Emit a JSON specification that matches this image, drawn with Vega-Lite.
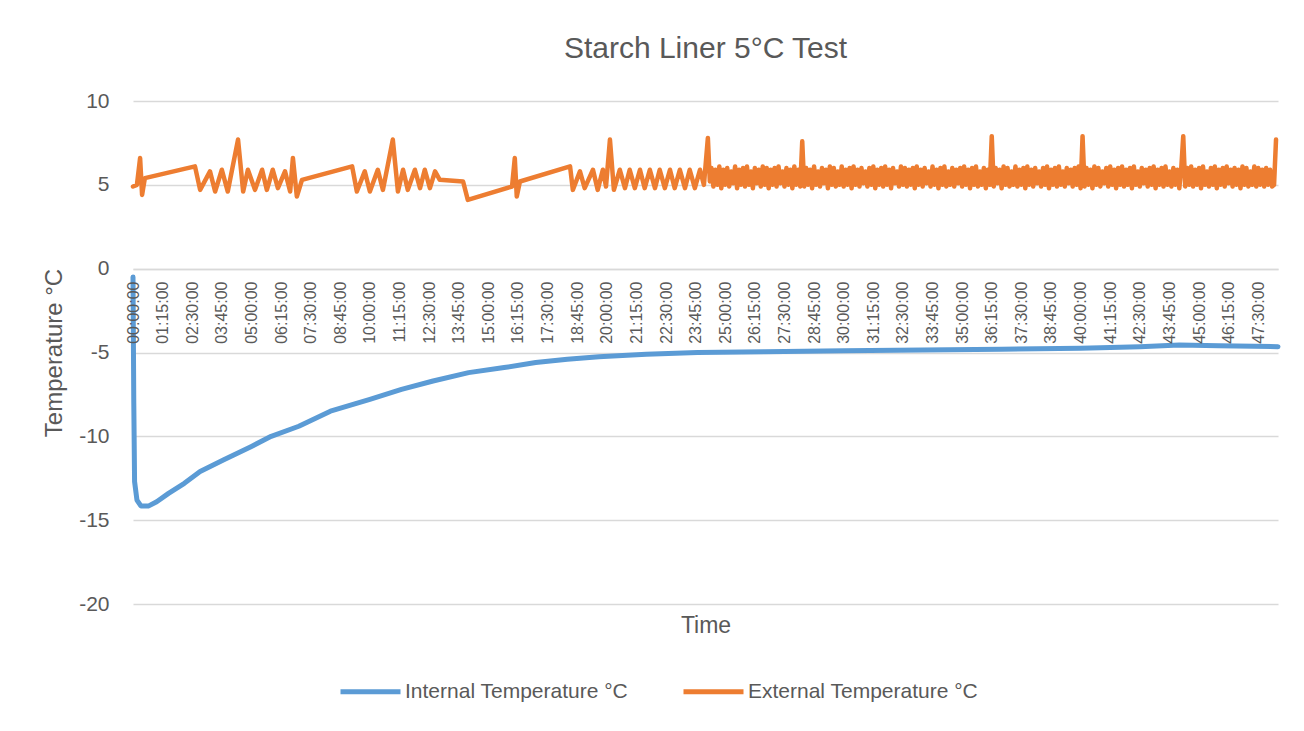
{
  "$schema": "https://vega.github.io/schema/vega-lite/v6.json",
  "width": 1145,
  "height": 503,
  "autosize": {"type": "none"},
  "padding": {"left": 133, "top": 101, "right": 26, "bottom": 127},
  "background": "white",
  "title": {"text": "Starch Liner 5°C Test", "fontSize": 30, "font": "Liberation Sans", "fontWeight": "normal", "color": "#595959", "offset": 26, "anchor": "middle"},
  "config": {"view": {"stroke": null}, "font": "Liberation Sans", "axis": {"labelOverlap": false}},
  "datasets": {
    "int": [
      {"t":0,"v":-0.5},{"t":2,"v":-8},{"t":4,"v":-12.7},{"t":10,"v":-13.8},{"t":20,"v":-14.15},{"t":40,"v":-14.15},{"t":60,"v":-13.9},{"t":90,"v":-13.4},{"t":130,"v":-12.8},{"t":170,"v":-12.1},{"t":230,"v":-11.4},{"t":300,"v":-10.6},{"t":350,"v":-10.0},{"t":420,"v":-9.4},{"t":500,"v":-8.5},{"t":600,"v":-7.8},{"t":680,"v":-7.2},{"t":760,"v":-6.7},{"t":850,"v":-6.2},{"t":940,"v":-5.9},{"t":1020,"v":-5.6},{"t":1100,"v":-5.4},{"t":1180,"v":-5.25},{"t":1300,"v":-5.1},{"t":1430,"v":-5.0},{"t":1600,"v":-4.95},{"t":1800,"v":-4.9},{"t":2000,"v":-4.85},{"t":2200,"v":-4.8},{"t":2400,"v":-4.75},{"t":2550,"v":-4.65},{"t":2650,"v":-4.55},{"t":2750,"v":-4.6},{"t":2900,"v":-4.65}
    ],
    "ext": [
      {"t":0,"v":4.9},{"t":10,"v":5.0},{"t":18,"v":6.6},{"t":23,"v":4.4},{"t":30,"v":5.4},{"t":157,"v":6.1},{"t":170,"v":4.7},{"t":195,"v":5.8},{"t":208,"v":4.6},{"t":225,"v":5.9},{"t":240,"v":4.6},{"t":266,"v":7.7},{"t":279,"v":4.6},{"t":291,"v":5.9},{"t":309,"v":4.7},{"t":327,"v":5.9},{"t":339,"v":4.7},{"t":354,"v":5.9},{"t":367,"v":4.8},{"t":385,"v":5.8},{"t":398,"v":4.6},{"t":405,"v":6.6},{"t":415,"v":4.3},{"t":428,"v":5.3},{"t":555,"v":6.1},{"t":567,"v":4.6},{"t":587,"v":5.8},{"t":600,"v":4.6},{"t":620,"v":5.9},{"t":633,"v":4.7},{"t":658,"v":7.7},{"t":671,"v":4.6},{"t":684,"v":5.9},{"t":696,"v":4.7},{"t":714,"v":5.9},{"t":727,"v":4.8},{"t":739,"v":5.9},{"t":752,"v":4.8},{"t":765,"v":5.8},{"t":777,"v":5.3},{"t":836,"v":5.2},{"t":848,"v":4.1},{"t":960,"v":4.9},{"t":967,"v":6.6},{"t":972,"v":4.3},{"t":980,"v":5.2},{"t":1107,"v":6.1},{"t":1114,"v":4.7},{"t":1132,"v":5.8},{"t":1144,"v":4.8},{"t":1165,"v":5.9},{"t":1177,"v":4.7},{"t":1190,"v":5.9},{"t":1198,"v":4.9},{"t":1208,"v":7.7},{"t":1218,"v":4.7},{"t":1233,"v":5.9},{"t":1246,"v":4.8},{"t":1258,"v":5.9},{"t":1271,"v":4.8},{"t":1284,"v":5.9},{"t":1296,"v":4.8},{"t":1309,"v":5.9},{"t":1322,"v":4.8},{"t":1334,"v":5.9},{"t":1347,"v":4.8},{"t":1360,"v":5.9},{"t":1372,"v":4.8},{"t":1385,"v":5.9},{"t":1398,"v":4.8},{"t":1410,"v":5.9},{"t":1423,"v":4.8},{"t":1436,"v":5.9},{"t":1446,"v":5.0},{"t":1456,"v":7.8},{"t":1461,"v":5.2},
      {"t":1465,"v":6.0},{"t":1470,"v":4.9},{"t":1475,"v":5.9},{"t":1480,"v":5.0},{"t":1485,"v":6.1},{"t":1490,"v":4.8},{"t":1495,"v":5.9},{"t":1500,"v":5.0},{"t":1505,"v":6.0},{"t":1510,"v":4.9},{"t":1515,"v":5.8},{"t":1520,"v":5.1},{"t":1525,"v":6.1},{"t":1530,"v":4.8},
      {"t":1535,"v":5.9},{"t":1540,"v":5.0},{"t":1545,"v":6.0},{"t":1550,"v":4.9},{"t":1555,"v":6.1},{"t":1560,"v":5.0},{"t":1565,"v":5.8},{"t":1570,"v":4.8},{"t":1575,"v":6.0},{"t":1580,"v":5.1},{"t":1585,"v":5.9},{"t":1590,"v":4.9},{"t":1595,"v":6.1},{"t":1600,"v":5.0},
      {"t":1605,"v":6.0},{"t":1610,"v":4.8},{"t":1615,"v":5.9},{"t":1620,"v":5.0},{"t":1625,"v":6.0},{"t":1630,"v":4.9},{"t":1635,"v":6.1},{"t":1640,"v":5.1},{"t":1645,"v":5.8},{"t":1650,"v":4.9},{"t":1655,"v":6.0},{"t":1660,"v":5.0},{"t":1665,"v":5.9},{"t":1670,"v":4.8},
      {"t":1675,"v":6.1},{"t":1680,"v":5.0},{"t":1685,"v":5.9},{"t":1690,"v":4.9},{"t":1695,"v":7.6},{"t":1700,"v":4.9},{"t":1705,"v":6.0},{"t":1710,"v":5.0},{"t":1715,"v":5.9},{"t":1720,"v":4.8},{"t":1725,"v":6.1},{"t":1730,"v":5.0},{"t":1735,"v":5.8},{"t":1740,"v":4.9},
      {"t":1745,"v":6.0},{"t":1750,"v":5.1},{"t":1755,"v":5.9},{"t":1760,"v":4.8},{"t":1765,"v":6.1},{"t":1770,"v":5.0},{"t":1775,"v":6.0},{"t":1780,"v":4.9},{"t":1785,"v":5.8},{"t":1790,"v":5.0},{"t":1795,"v":6.1},{"t":1800,"v":4.9},{"t":1805,"v":5.9},{"t":1810,"v":5.0},
      {"t":1815,"v":6.0},{"t":1820,"v":4.8},{"t":1825,"v":6.1},{"t":1830,"v":5.0},{"t":1835,"v":5.9},{"t":1840,"v":4.9},{"t":1845,"v":6.0},{"t":1850,"v":5.1},{"t":1855,"v":5.8},{"t":1860,"v":4.9},{"t":1865,"v":6.0},{"t":1870,"v":5.0},{"t":1875,"v":6.1},{"t":1880,"v":4.8},
      {"t":1885,"v":5.9},{"t":1890,"v":5.0},{"t":1895,"v":6.0},{"t":1900,"v":4.9},{"t":1905,"v":6.1},{"t":1910,"v":5.0},{"t":1915,"v":5.9},{"t":1920,"v":4.8},{"t":1925,"v":6.0},{"t":1930,"v":5.1},{"t":1935,"v":5.8},{"t":1940,"v":4.9},{"t":1945,"v":6.1},{"t":1950,"v":5.0},
      {"t":1955,"v":6.0},{"t":1960,"v":4.9},{"t":1965,"v":5.9},{"t":1970,"v":5.0},{"t":1975,"v":6.0},{"t":1980,"v":4.8},{"t":1985,"v":6.1},{"t":1990,"v":5.0},{"t":1995,"v":5.9},{"t":2000,"v":4.9},{"t":2005,"v":6.0},{"t":2010,"v":5.1},{"t":2015,"v":5.8},{"t":2020,"v":4.9},
      {"t":2025,"v":6.1},{"t":2030,"v":5.0},{"t":2035,"v":5.9},{"t":2040,"v":4.8},{"t":2045,"v":6.0},{"t":2050,"v":5.0},{"t":2055,"v":6.1},{"t":2060,"v":4.9},{"t":2065,"v":5.8},{"t":2070,"v":5.0},{"t":2075,"v":6.0},{"t":2080,"v":4.9},{"t":2085,"v":5.9},{"t":2090,"v":5.1},
      {"t":2095,"v":6.0},{"t":2100,"v":4.9},{"t":2105,"v":6.1},{"t":2110,"v":5.0},{"t":2115,"v":5.9},{"t":2120,"v":4.8},{"t":2125,"v":6.0},{"t":2130,"v":5.0},{"t":2135,"v":6.1},{"t":2140,"v":4.9},{"t":2145,"v":5.8},{"t":2150,"v":5.0},{"t":2155,"v":6.0},{"t":2160,"v":4.8},
      {"t":2165,"v":5.9},{"t":2170,"v":5.0},{"t":2175,"v":7.9},{"t":2180,"v":4.9},{"t":2185,"v":6.0},{"t":2190,"v":5.1},{"t":2195,"v":5.9},{"t":2200,"v":4.8},{"t":2205,"v":6.1},{"t":2210,"v":5.0},{"t":2215,"v":6.0},{"t":2220,"v":4.9},{"t":2225,"v":5.8},{"t":2230,"v":5.0},
      {"t":2235,"v":6.1},{"t":2240,"v":4.9},{"t":2245,"v":5.9},{"t":2250,"v":5.0},{"t":2255,"v":6.0},{"t":2260,"v":4.8},{"t":2265,"v":6.1},{"t":2270,"v":5.0},{"t":2275,"v":5.9},{"t":2280,"v":4.9},{"t":2285,"v":6.0},{"t":2290,"v":5.1},{"t":2295,"v":5.8},{"t":2300,"v":4.9},
      {"t":2305,"v":6.0},{"t":2310,"v":5.0},{"t":2315,"v":6.1},{"t":2320,"v":4.8},{"t":2325,"v":5.9},{"t":2330,"v":5.0},{"t":2335,"v":6.0},{"t":2340,"v":4.9},{"t":2345,"v":6.1},{"t":2350,"v":5.0},{"t":2355,"v":5.8},{"t":2360,"v":4.9},{"t":2365,"v":6.0},{"t":2370,"v":5.1},
      {"t":2375,"v":5.9},{"t":2380,"v":4.9},{"t":2385,"v":6.0},{"t":2390,"v":5.0},{"t":2395,"v":6.1},{"t":2400,"v":4.8},{"t":2405,"v":7.9},{"t":2410,"v":4.9},{"t":2415,"v":6.0},{"t":2420,"v":5.0},{"t":2425,"v":5.9},{"t":2430,"v":4.8},{"t":2435,"v":6.1},{"t":2440,"v":5.0},
      {"t":2445,"v":6.0},{"t":2450,"v":4.9},{"t":2455,"v":5.8},{"t":2460,"v":5.1},{"t":2465,"v":6.0},{"t":2470,"v":4.9},{"t":2475,"v":6.1},{"t":2480,"v":5.0},{"t":2485,"v":5.9},{"t":2490,"v":4.8},{"t":2495,"v":6.0},{"t":2500,"v":5.0},{"t":2505,"v":6.1},{"t":2510,"v":4.9},
      {"t":2515,"v":5.9},{"t":2520,"v":5.0},{"t":2525,"v":6.0},{"t":2530,"v":4.8},{"t":2535,"v":6.1},{"t":2540,"v":5.0},{"t":2545,"v":5.8},{"t":2550,"v":4.9},{"t":2555,"v":6.0},{"t":2560,"v":5.1},{"t":2565,"v":5.9},{"t":2570,"v":4.9},{"t":2575,"v":6.0},{"t":2580,"v":5.0},
      {"t":2585,"v":6.1},{"t":2590,"v":4.8},{"t":2595,"v":5.9},{"t":2600,"v":5.0},{"t":2605,"v":6.0},{"t":2610,"v":4.9},{"t":2615,"v":6.1},{"t":2620,"v":5.0},{"t":2625,"v":5.8},{"t":2630,"v":4.9},{"t":2635,"v":6.0},{"t":2640,"v":5.0},{"t":2645,"v":5.9},{"t":2650,"v":4.8},
      {"t":2655,"v":6.0},{"t":2660,"v":7.9},{"t":2665,"v":4.9},{"t":2670,"v":6.0},{"t":2675,"v":5.0},{"t":2680,"v":6.1},{"t":2685,"v":4.9},{"t":2690,"v":5.9},{"t":2695,"v":5.0},{"t":2700,"v":6.0},{"t":2705,"v":4.8},{"t":2710,"v":6.1},{"t":2715,"v":5.0},{"t":2720,"v":5.8},
      {"t":2725,"v":4.9},{"t":2730,"v":6.0},{"t":2735,"v":5.0},{"t":2740,"v":6.1},{"t":2745,"v":4.8},{"t":2750,"v":5.9},{"t":2755,"v":5.0},{"t":2760,"v":6.0},{"t":2765,"v":4.9},{"t":2770,"v":6.1},{"t":2775,"v":5.1},{"t":2780,"v":5.9},{"t":2785,"v":4.9},{"t":2790,"v":6.0},
      {"t":2795,"v":5.0},{"t":2800,"v":5.9},{"t":2805,"v":4.8},{"t":2810,"v":6.1},{"t":2815,"v":5.0},{"t":2820,"v":6.0},{"t":2825,"v":4.9},{"t":2830,"v":5.8},{"t":2835,"v":5.0},{"t":2840,"v":6.1},{"t":2845,"v":4.9},{"t":2850,"v":6.0},{"t":2855,"v":5.0},{"t":2860,"v":5.9},
      {"t":2865,"v":4.9},{"t":2870,"v":6.0},{"t":2875,"v":5.0},{"t":2880,"v":5.9},{"t":2885,"v":4.9},{"t":2890,"v":5.0},{"t":2895,"v":7.7}
    ]
  },
  "encoding": {
    "x": {
      "field": "t", "type": "quantitative",
      "scale": {"domain": [0, 2900], "nice": false, "zero": false},
      "axis": {
        "title": "Time",
        "values": [0,75,150,225,300,375,450,525,600,675,750,825,900,975,1050,1125,1200,1275,1350,1425,1500,1575,1650,1725,1800,1875,1950,2025,2100,2175,2250,2325,2400,2475,2550,2625,2700,2775,2850],
        "labelExpr": "(floor(datum.value/60)<10?'0':'')+floor(datum.value/60)+':'+(datum.value%60<10?'0':'')+(datum.value%60)+':00'",
        "labelAngle": 270,
        "labelOverlap": false,
        "labelSeparation": 0,
        "labelFlush": false,
        "offset": -335,
        "grid": false,
        "ticks": false,
        "domain": true,
        "domainColor": "#d9d9d9",
        "domainWidth": 1.3,
        "labelFontSize": 16,
        "labelColor": "#595959",
        "labelPadding": 12,
        "titleFontSize": 23,
        "titleColor": "#595959",
        "titleFontWeight": "normal",
        "titleY": 345,
        "zindex": 1
      }
    },
    "y": {
      "field": "v", "type": "quantitative",
      "scale": {"domain": [-20, 10], "nice": false},
      "axis": {
        "title": "Temperature °C",
        "values": [-20,-15,-10,-5,0,5,10],
        "labelExpr": "datum.value + ''",
        "grid": true,
        "gridColor": "#d9d9d9",
        "gridWidth": 1.3,
        "domain": false,
        "ticks": false,
        "labelFontSize": 21,
        "labelColor": "#595959",
        "labelPadding": 24,
        "titleFontSize": 24,
        "titleColor": "#595959",
        "titleFontWeight": "normal",
        "titlePadding": 12
      }
    },
    "color": {
      "field": "s",
      "type": "nominal",
      "scale": {"domain": ["Internal Temperature °C", "External Temperature °C"], "range": ["#5b9bd5", "#ed7d31"]},
      "legend": {
        "orient": "none",
        "legendX": 205,
        "legendY": 558,
        "direction": "horizontal",
        "title": null,
        "symbolType": "stroke",
        "symbolSize": 3600,
        "symbolStrokeWidth": 5,
        "labelFontSize": 21,
        "labelColor": "#595959",
        "labelLimit": 400,
        "columnPadding": 44,
        "labelOffset": 2
      }
    }
  },
  "layer": [
    {
      "data": {"name": "int"},
      "mark": {"type": "line", "strokeWidth": 5, "strokeJoin": "round", "strokeCap": "round"},
      "encoding": {"color": {"datum": "Internal Temperature °C", "type": "nominal"}}
    },
    {
      "data": {"name": "ext"},
      "mark": {"type": "line", "strokeWidth": 4.5, "strokeJoin": "round", "strokeCap": "round"},
      "encoding": {"color": {"datum": "External Temperature °C", "type": "nominal"}}
    }
  ]
}
